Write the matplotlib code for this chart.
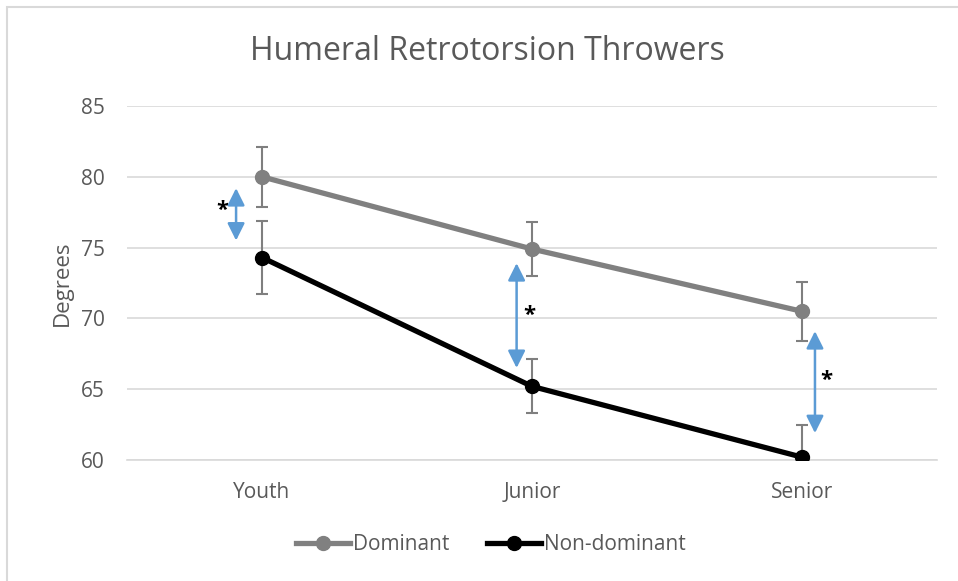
import matplotlib.pyplot as plt
from matplotlib.patches import Rectangle

categories = ['Youth', 'Junior', 'Senior']
dominant = [80.0, 74.9, 70.5]
dominant_err = [2.1, 1.9, 2.1]
non_dominant = [74.3, 65.2, 60.2]
non_dominant_err = [2.6, 1.9, 2.3]

# significance arrows: (x offset from category, low, high), asterisk (x offset, y)
arrow_dx = [-0.096, -0.057, 0.048]
arrow_low = [75.5, 66.5, 61.9]
arrow_high = [79.2, 73.9, 69.1]
star_dx = [-0.146, -0.01, 0.089]
star_y = [77.6, 70.2, 65.6]

plt.rcParams['font.family'] = ['Open Sans', 'DejaVu Sans']

text_color = '#595959'
grid_color = '#d9d9d9'
dom_color = '#808080'
non_color = '#000000'
err_color = '#7f7f7f'
arrow_color = '#5b9bd5'

fig = plt.figure(figsize=(9.58, 5.81), dpi=100)
ax = fig.add_axes([127 / 958, 1 - 460 / 581, 810 / 958, 354 / 581])

x = list(range(len(categories)))

ax.errorbar(x, dominant, yerr=dominant_err, fmt='none', ecolor=err_color,
            elinewidth=1.5, capsize=4.5, capthick=1.5, zorder=2)
ax.errorbar(x, non_dominant, yerr=non_dominant_err, fmt='none', ecolor=err_color,
            elinewidth=1.5, capsize=4.5, capthick=1.5, zorder=2)
ax.plot(x, dominant, color=dom_color, lw=3.8, marker='o', ms=10,
        label='Dominant', zorder=3)
ax.plot(x, non_dominant, color=non_color, lw=3.8, marker='o', ms=10,
        label='Non-dominant', zorder=3)

for i in x:
    ax.annotate('', xy=(i + arrow_dx[i], arrow_high[i]),
                xytext=(i + arrow_dx[i], arrow_low[i]),
                arrowprops=dict(arrowstyle='<|-|>', color=arrow_color, lw=1.8,
                                mutation_scale=26, shrinkA=0, shrinkB=0),
                zorder=4)
    ax.text(i + star_dx[i], star_y[i], '*', fontsize=16, color='black',
            ha='center', va='center', fontweight='bold')

ax.set_xlim(-0.5, 2.5)
ax.set_ylim(60, 85)
ax.set_yticks(range(60, 86, 5))
ax.set_xticks(x)
ax.set_xticklabels(categories)
ax.yaxis.grid(True, color=grid_color, lw=1.2)
ax.set_axisbelow(True)
for s in ax.spines.values():
    s.set_visible(False)
ax.spines['bottom'].set_visible(True)
ax.spines['bottom'].set_color(grid_color)
ax.spines['bottom'].set_linewidth(1.2)
ax.tick_params(length=0, labelsize=15, labelcolor=text_color)
ax.tick_params(axis='y', pad=16)
ax.tick_params(axis='x', pad=16)
ax.set_ylabel('Degrees', fontsize=16, color=text_color, labelpad=6)

fig.text(487 / 958, 1 - 52 / 581, 'Humeral Retrotorsion Throwers', fontsize=23,
         color=text_color, ha='center', va='center')

leg = ax.legend(loc='center', bbox_to_anchor=(491 / 958, 1 - 545 / 581),
                bbox_transform=fig.transFigure, ncol=2, frameon=False,
                fontsize=15, handlelength=2.6, handletextpad=0.15,
                columnspacing=1.8, borderpad=0)
for t in leg.get_texts():
    t.set_color(text_color)

fig.patches.append(Rectangle((7 / 958, -0.05), 1.2, 1 - 7 / 581 + 0.05,
                             transform=fig.transFigure, fill=False,
                             edgecolor='#d9d9d9', lw=1.5))

fig.savefig('out.png', dpi=100)
